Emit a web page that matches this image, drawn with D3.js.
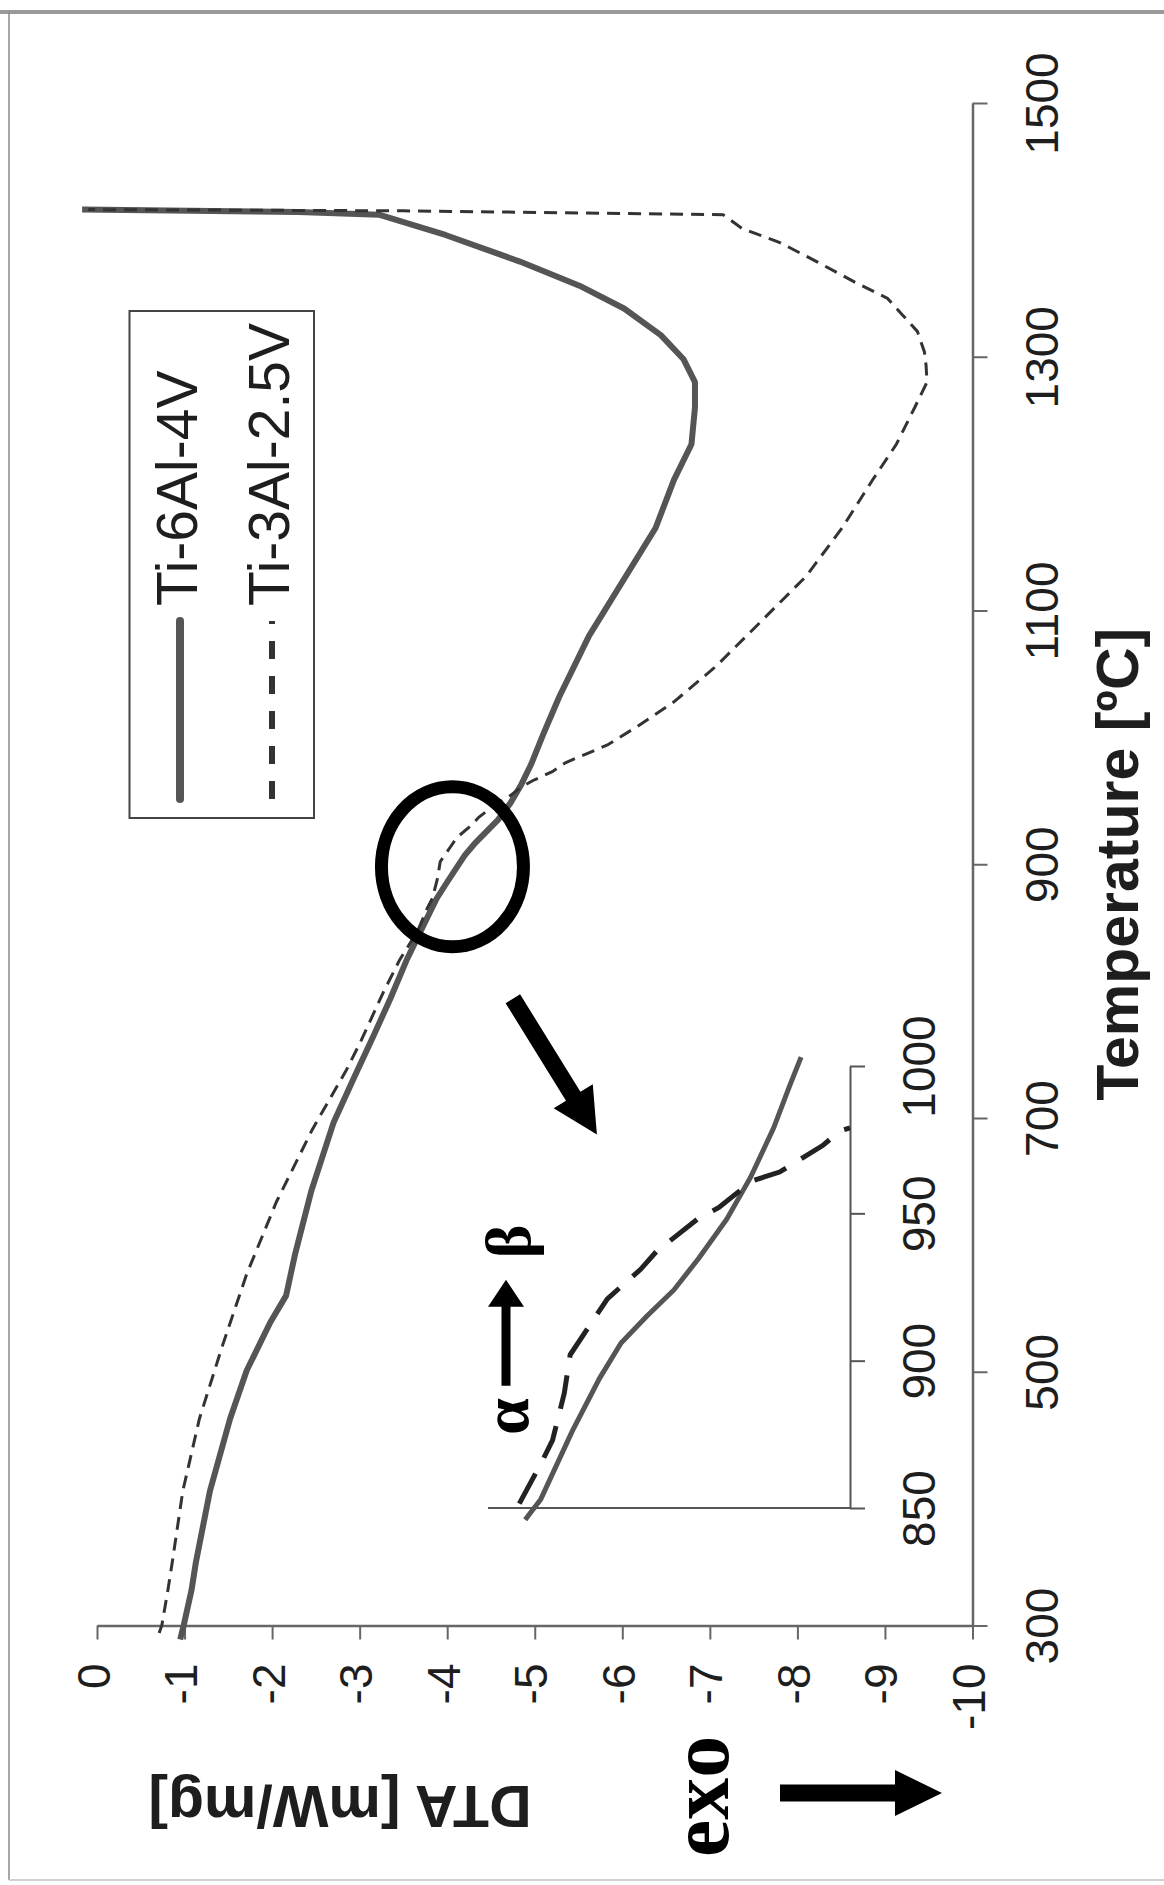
<!DOCTYPE html>
<html>
<head>
<meta charset="utf-8">
<script src="https://cdn.jsdelivr.net/npm/d3@7"></script>
<style>
  body { margin: 0; background: #fff; }
  svg { display: block; }
  text { font-family: "Liberation Sans", Arial, sans-serif; fill: #1e1e1e; }
  .serif { font-family: "Liberation Serif", "Times New Roman", serif; font-weight: bold; fill: #000; }
</style>
</head>
<body>
<svg id="chart"></svg>
<script>
// [temperature °C, DTA mW/mg]
const ti64 = [
  [289, -0.95], [300, -0.99], [328, -1.08], [350, -1.13], [406, -1.29], [463, -1.52],
  [501, -1.71], [539, -1.98], [560, -2.16], [592, -2.26], [643, -2.45], [696, -2.70],
  [731, -2.93], [765, -3.16], [794, -3.35], [825, -3.54], [852, -3.73], [873, -3.88],
  [886, -4.00], [907, -4.20], [916, -4.31], [935, -4.58], [948, -4.72], [962, -4.84],
  [979, -4.96], [1003, -5.10], [1032, -5.28], [1080, -5.62], [1127, -6.04], [1165, -6.38],
  [1203, -6.59], [1231, -6.79], [1260, -6.83], [1280, -6.83], [1298, -6.70], [1317, -6.44],
  [1338, -6.02], [1356, -5.51], [1375, -4.83], [1396, -3.98], [1412, -3.22], [1414, -2.30],
  [1416, 0.17]
];
const ti325 = [
  [294, -0.71], [300, -0.74], [328, -0.81], [350, -0.86], [406, -0.98], [463, -1.17],
  [520, -1.43], [577, -1.71], [634, -2.05], [691, -2.46], [738, -2.85], [760, -3.01],
  [799, -3.27], [825, -3.46], [847, -3.66], [865, -3.77], [873, -3.83], [889, -3.89],
  [902, -3.92], [914, -4.04], [921, -4.11], [931, -4.28], [937, -4.36], [948, -4.57],
  [952, -4.68], [961, -4.85], [966, -4.98], [973, -5.20], [980, -5.35], [994, -5.83],
  [1009, -6.18], [1028, -6.59], [1056, -7.07], [1089, -7.55], [1127, -8.10], [1165, -8.51],
  [1203, -8.86], [1231, -9.13], [1260, -9.34], [1280, -9.48], [1293, -9.47], [1304, -9.45],
  [1320, -9.37], [1333, -9.20], [1346, -9.03], [1359, -8.65], [1375, -8.22], [1390, -7.80],
  [1401, -7.37], [1412, -7.15], [1415, -3.50], [1416, 0.10]
];

// zoomed view 850-1000 °C
const ti64Zoom = [
  [846, -3.69], [853, -3.77], [876, -3.93], [894, -4.07], [906, -4.18], [915, -4.31],
  [924, -4.45], [935, -4.58], [948, -4.72], [962, -4.84], [979, -4.96], [993, -5.04],
  [1003, -5.10]
];
const ti325Zoom = [
  [851.5, -3.66], [865, -3.77], [873, -3.83], [889, -3.89], [902, -3.92], [914, -4.04],
  [921, -4.11], [931, -4.28], [937, -4.36], [948, -4.57], [952, -4.68], [961, -4.85],
  [964, -4.99], [973, -5.21], [978, -5.30], [979, -5.35]
];

const tempTicks = [300, 500, 700, 900, 1100, 1300, 1500];
const dtaTicks = [0, -1, -2, -3, -4, -5, -6, -7, -8, -9, -10];
const zoomTicks = [850, 900, 950, 1000];
const seriesNames = ['Ti-6Al-4V', 'Ti-3Al-2.5V'];

class DtaChart {

    constructor(_config) {
        this.config = {
            parentElement: _config.parentElement,
            containerWidth: _config.containerWidth || 1164,
            containerHeight: _config.containerHeight || 1885
        }
        this.initVis();
    }

    initVis() {
        let vis = this;

        vis.svg = d3.select(vis.config.parentElement)
            .attr('width', vis.config.containerWidth)
            .attr('height', vis.config.containerHeight);

        // picture is turned a quarter: temperature runs up, DTA runs right
        vis.xScale = d3.scaleLinear().domain([0, -10]).range([97, 972.5]);
        vis.yScale = d3.scaleLinear().domain([300, 1500]).range([1625.5, 103]);

        vis.xZoom = d3.scaleLinear().domain([-3.5, -5.35]).range([488, 850]);
        vis.yZoom = d3.scaleLinear().domain([850, 1000]).range([1508, 1066]);

        vis.line = d3.line().x(d => vis.xScale(d[1])).y(d => vis.yScale(d[0]));
        vis.zoomLine = d3.line().x(d => vis.xZoom(d[1])).y(d => vis.yZoom(d[0]));

        vis.renderVis();
    }

    arrow(x0, y0, x1, y1, half, headLen, headHalf) {
        const dx = x1 - x0, dy = y1 - y0, len = Math.hypot(dx, dy);
        const ux = dx / len, uy = dy / len, nx = -uy, ny = ux;
        const bx = x1 - ux * headLen, by = y1 - uy * headLen;
        return [
            [x0 + nx * half, y0 + ny * half], [bx + nx * half, by + ny * half],
            [bx + nx * headHalf, by + ny * headHalf], [x1, y1],
            [bx - nx * headHalf, by - ny * headHalf], [bx - nx * half, by - ny * half],
            [x0 - nx * half, y0 - ny * half]
        ].map(p => p.join(',')).join(' ');
    }

    renderVis() {
        let vis = this;

        // frame
        vis.svg.append('line').attr('x1', 0).attr('x2', 1164).attr('y1', 12).attr('y2', 12)
            .attr('stroke', '#9a9a9a').attr('stroke-width', 4);
        vis.svg.append('line').attr('x1', 9).attr('x2', 9).attr('y1', 12).attr('y2', 1880)
            .attr('stroke', '#8a8a8a').attr('stroke-width', 1.5);
        vis.svg.append('line').attr('x1', 9).attr('x2', 1164).attr('y1', 1880).attr('y2', 1880)
            .attr('stroke', '#d0d0d0').attr('stroke-width', 2);

        // temperature axis
        const tempAxis = d3.axisRight(vis.yScale)
            .tickValues(tempTicks).tickSize(15).tickSizeOuter(0).tickFormat(d => d);
        const gT = vis.svg.append('g')
            .attr('transform', `translate(${vis.xScale(-10)},0)`)
            .call(tempAxis)
            .attr('font-size', null).attr('font-family', null);
        gT.select('.domain').attr('stroke', '#666').attr('stroke-width', 2.5);
        gT.selectAll('.tick line').attr('stroke', '#666').attr('stroke-width', 2);
        gT.selectAll('.tick text')
            .attr('x', 0).attr('dy', 0)
            .attr('text-anchor', 'middle')
            .attr('transform', 'translate(85,0) rotate(-90)')
            .style('font-size', '46px').attr('fill', '#222');

        // DTA axis
        const dtaAxis = d3.axisBottom(vis.xScale)
            .tickValues(dtaTicks).tickSize(14).tickSizeOuter(0).tickFormat(d => String(d));
        const gD = vis.svg.append('g')
            .attr('transform', `translate(0,${vis.yScale(300)})`)
            .call(dtaAxis)
            .attr('font-size', null).attr('font-family', null);
        gD.select('.domain').attr('stroke', '#666').attr('stroke-width', 2.5);
        gD.selectAll('.tick line').attr('stroke', '#666').attr('stroke-width', 2);
        gD.selectAll('.tick text')
            .attr('y', 0).attr('dy', 0)
            .attr('text-anchor', 'end')
            .attr('transform', 'translate(12,38) rotate(-90)')
            .style('font-size', '46px').attr('fill', '#222');

        // axis titles
        vis.svg.append('text')
            .attr('transform', `translate(1138,${vis.yScale(900)}) rotate(-90)`)
            .attr('text-anchor', 'middle')
            .style('font-size', '59px').style('font-weight', 'bold').attr('fill', '#000')
            .text('Temperature [ºC]');
        vis.svg.append('text')
            .attr('transform', 'translate(340,1786) rotate(180)')
            .attr('text-anchor', 'middle')
            .style('font-size', '59px').style('font-weight', 'bold').attr('fill', '#000')
            .text('DTA [mW/mg]');

        // exo marker
        vis.svg.append('text').attr('class', 'serif')
            .attr('transform', 'translate(728,1857) rotate(-90)')
            .style('font-size', '84px')
            .text('exo');
        vis.svg.append('polygon')
            .attr('points', vis.arrow(780, 1793, 942, 1793, 8.5, 47, 23))
            .attr('fill', '#000');

        // main curves
        vis.svg.append('path').datum(ti64)
            .attr('d', vis.line)
            .attr('fill', 'none').attr('stroke', '#555').attr('stroke-width', 6)
            .attr('stroke-linejoin', 'round');
        vis.svg.append('path').datum(ti325)
            .attr('d', vis.line)
            .attr('fill', 'none').attr('stroke', '#333').attr('stroke-width', 3)
            .attr('stroke-dasharray', '13,8');

        // legend
        const lg = vis.svg.append('g');
        lg.append('rect').attr('x', 129.5).attr('y', 311).attr('width', 184.5).attr('height', 507)
            .attr('fill', 'none').attr('stroke', '#444').attr('stroke-width', 2);
        const rows = [{x: 180, w: 8, c: '#555', dash: null}, {x: 272, w: 6, c: '#333', dash: '18,17'}];
        rows.forEach((r, i) => {
            lg.append('line').attr('x1', r.x).attr('x2', r.x).attr('y1', 799).attr('y2', 621)
                .attr('stroke', r.c).attr('stroke-width', r.w).attr('stroke-dasharray', r.dash)
                .attr('stroke-linecap', r.dash ? 'butt' : 'round');
            lg.append('text')
                .attr('transform', `translate(${r.x + 17},606) rotate(-90)`)
                .style('font-size', '57px').attr('fill', '#111')
                .text(seriesNames[i]);
        });

        // highlight ring and pointer
        vis.svg.append('ellipse')
            .attr('cx', vis.xScale(-4.06)).attr('cy', vis.yScale(898))
            .attr('rx', 71).attr('ry', 80)
            .attr('fill', 'none').attr('stroke', '#000').attr('stroke-width', 13);
        vis.svg.append('polygon')
            .attr('points', vis.arrow(vis.xScale(-4.75), vis.yScale(794), vis.xScale(-5.71), vis.yScale(687), 8.5, 45, 23))
            .attr('fill', '#000');

        // inset
        const gZ = vis.svg.append('g');
        gZ.append('line')
            .attr('x1', vis.xZoom(-3.5)).attr('x2', vis.xZoom(-5.35))
            .attr('y1', vis.yZoom(850)).attr('y2', vis.yZoom(850))
            .attr('stroke', '#555').attr('stroke-width', 2);
        const zoomAxis = d3.axisRight(vis.yZoom)
            .tickValues(zoomTicks).tickSize(15).tickSizeOuter(0).tickFormat(d => d);
        const gZa = gZ.append('g')
            .attr('transform', `translate(${vis.xZoom(-5.35)},0)`)
            .call(zoomAxis)
            .attr('font-size', null).attr('font-family', null);
        gZa.select('.domain').attr('stroke', '#555').attr('stroke-width', 2);
        gZa.selectAll('.tick line').attr('stroke', '#555').attr('stroke-width', 2);
        gZa.selectAll('.tick text')
            .attr('x', 0).attr('dy', 0)
            .attr('text-anchor', 'middle')
            .attr('transform', 'translate(85,0) rotate(-90)')
            .style('font-size', '46px').attr('fill', '#222');

        gZ.append('path').datum(ti64Zoom)
            .attr('d', vis.zoomLine)
            .attr('fill', 'none').attr('stroke', '#555').attr('stroke-width', 5);
        gZ.append('path').datum(ti325Zoom)
            .attr('d', vis.zoomLine)
            .attr('fill', 'none').attr('stroke', '#222').attr('stroke-width', 5)
            .attr('stroke-dasharray', '34,18');

        // alpha -> beta
        gZ.append('text').attr('class', 'serif')
            .attr('transform', `translate(${vis.xZoom(-3.705)},${vis.yZoom(881)}) rotate(-90)`)
            .attr('text-anchor', 'middle')
            .style('font-size', '66px')
            .text('α');
        gZ.append('text').attr('class', 'serif')
            .attr('transform', `translate(${vis.xZoom(-3.715)},${vis.yZoom(940.5)}) rotate(-90)`)
            .attr('text-anchor', 'middle')
            .style('font-size', '64px')
            .text('β');
        gZ.append('polygon')
            .attr('points', vis.arrow(vis.xZoom(-3.592), vis.yZoom(891.5), vis.xZoom(-3.592), vis.yZoom(927.5), 4.5, 27, 18))
            .attr('fill', '#000');
    }
}

new DtaChart({parentElement: '#chart'});
</script>
</body>
</html>
